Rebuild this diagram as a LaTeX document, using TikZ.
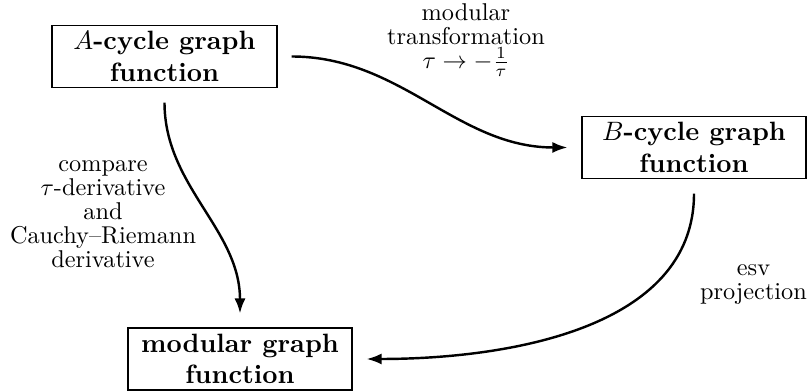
\documentclass[tikz,border=0pt]{standalone}
\usetikzlibrary{arrows.meta}
\begin{document}
\begin{tikzpicture}[x=0.4115pt,y=-0.4115pt,
  box/.style={draw,line width=0.8pt,align=center,inner sep=1pt,
    minimum width=92.2pt,minimum height=25.5pt,
    font=\fontsize{10.9}{12.9}\selectfont\bfseries},
  lbl/.style={align=center,inner sep=0pt,font=\fontsize{10}{9.9}\selectfont},
  conn/.style={line width=1pt,-{Latex[length=6.2pt,width=4.6pt]},
    shorten <=5.8pt,shorten >=5.6pt}]
\useasboundingbox (0,0) rectangle (811,392);
\node[box] (A) at (164.5,56.5) {$A$-cycle graph\\function};
\node[box] (B) at (694,147.5) {$B$-cycle graph\\function};
\node[box] (M) at (240,359) {modular graph\\function};
\node[lbl] (lt) at (466,40) {modular\\transformation\\$\tau\to-\frac{1}{\tau}$};
\node[lbl] (lc) at (103,214) {compare\\$\tau$-derivative\\and\\Cauchy--Riemann\\derivative};
\node[lbl] (le) at (753.5,284.6) {esv\\projection};
\draw[conn] (A) to[out=0,in=180] (B);
\draw[conn] (A) to[out=-90,in=90] (M);
\draw[conn] (B) to[out=-90,in=0] (M);
\end{tikzpicture}
\end{document}
